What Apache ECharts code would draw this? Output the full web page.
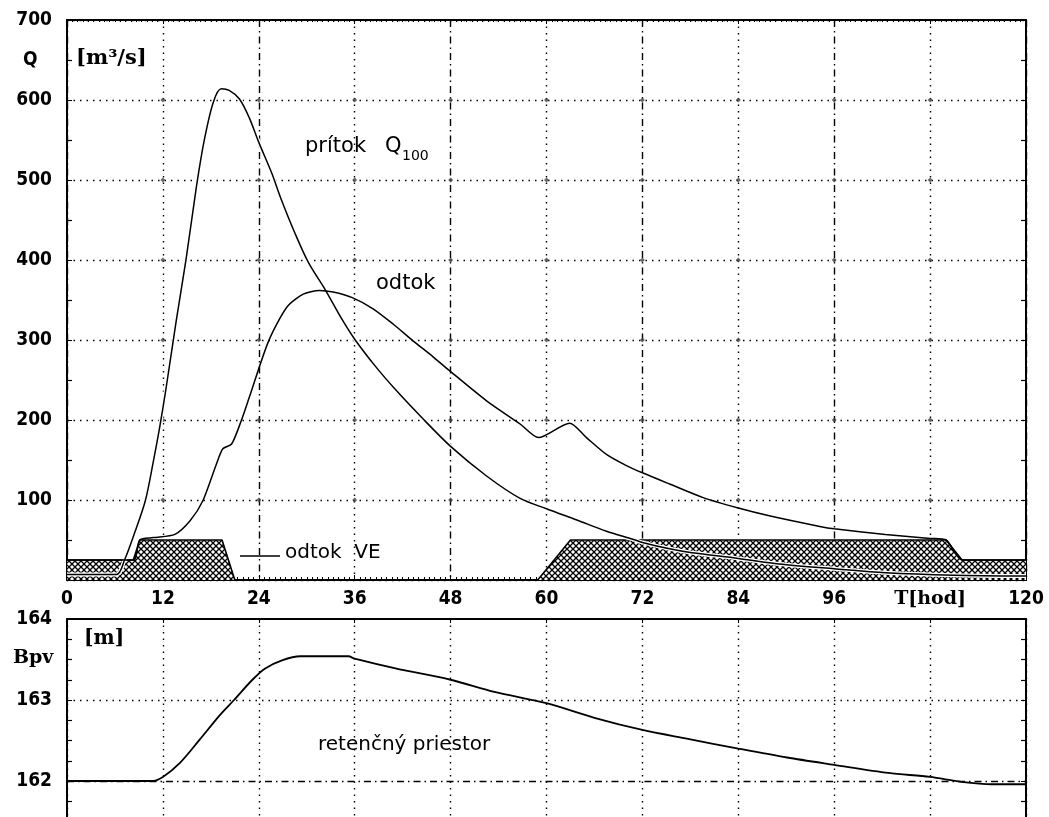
<!DOCTYPE html>
<html>
<head>
<meta charset="utf-8">
<script src="https://cdn.jsdelivr.net/npm/echarts@6/dist/echarts.min.js"></script>
<style>
html, body { margin: 0; padding: 0; background: #fff; }
#chart { width: 1049px; height: 817px; }
</style>
</head>
<body>
<div id="chart"></div>
<script>
// Time axis (hours) and axis ranges
const timeTicks = [0, 12, 24, 36, 48, 60, 72, 84, 96, 108, 120];
const timeAxisName = 'T[hod]';
const qTicks = [0, 100, 200, 300, 400, 500, 600, 700];
const levelRange = [161, 164];

// Inflow hydrograph Q100 [m3/s]: [hour, discharge]
const inflow = [
  [0, 7], [6.2, 7], [7.2, 25], [8.5, 60], [9.8, 99], [10.8, 148], [11.6, 191],
  [12.4, 240], [13.7, 326], [14.9, 401], [16.2, 492], [17.2, 551], [18.3, 597],
  [19.3, 614], [20.3, 612], [21.6, 601], [22.8, 578], [24, 547], [25.6, 509],
  [26.8, 476], [28.5, 434], [30.2, 397], [32.3, 363], [34.4, 326], [36, 301],
  [38.6, 267], [41.1, 238], [44.3, 204], [48, 167], [52.5, 130], [56.7, 102],
  [60, 89], [63.8, 75], [67.5, 61], [70.8, 51], [72, 47], [75.4, 39], [78.2, 34],
  [84, 27], [89.1, 20], [96, 14], [102.4, 9], [111, 6], [120, 5]
];

// Reservoir outflow [m3/s]
const outflow = [
  [0, 25], [8.3, 25], [9.1, 50], [10.8, 53], [13.5, 57], [15.4, 74], [17, 99],
  [18.7, 145], [19.5, 164], [20.6, 170], [21.8, 199], [22.8, 228], [25.2, 298],
  [27.5, 341], [29.5, 357], [31.6, 362], [33.3, 360], [35.7, 353], [38.3, 339],
  [40.8, 320], [43.3, 299], [45.8, 279], [47.7, 263], [52.5, 224], [56.7, 195],
  [59, 178], [62.9, 196], [65, 178], [67.5, 157], [70, 143], [72, 134],
  [75.4, 120], [79.6, 103], [84, 90], [88, 80], [94.2, 67], [96, 64],
  [102.4, 57], [108, 52], [110, 50], [112, 25], [120, 25]
];

// Outflow through the hydropower plant (VE) [m3/s]
const outflowVE = [
  [0, 25], [8.3, 25], [9.1, 50], [19.4, 50], [21, 0], [58.9, 0], [63, 50],
  [110, 50], [112, 25], [120, 25]
];

// Water level in the reservoir Bpv [m]
const waterLevel = [
  [0, 162], [10.6, 162], [12, 162.05], [14.1, 162.22], [16.6, 162.51],
  [19.1, 162.81], [20.9, 163.0], [23.2, 163.25], [24.8, 163.39],
  [26.9, 163.49], [29.2, 163.54], [35.2, 163.54], [36, 163.51], [41.1, 163.39],
  [48, 163.25], [53.5, 163.1], [60, 162.96], [66, 162.78], [72, 162.63],
  [77.7, 162.52], [84, 162.4], [90.1, 162.29], [96, 162.2], [102.8, 162.1],
  [108, 162.05], [111.9, 161.99], [115.7, 161.96], [120, 161.96]
];

// Cross-hatch fill for the VE outflow band
function crossHatch() {
  const s = 6;
  const c = document.createElement('canvas');
  c.width = s; c.height = s;
  const g = c.getContext('2d');
  g.fillStyle = '#fff';
  g.fillRect(0, 0, s, s);
  g.strokeStyle = '#000';
  g.lineWidth = 1.3;
  g.beginPath();
  g.moveTo(0, 0); g.lineTo(s, s);
  g.moveTo(s, 0); g.lineTo(0, s);
  g.stroke();
  return c;
}

// Small marks where the grid lines of the discharge panel cross
const gridCrossings = [];
timeTicks.slice(1, -1).forEach(t => {
  qTicks.slice(1, -1).forEach(q => gridCrossings.push([t, q]));
});

const INK = '#000';
const NONE = 'rgba(0,0,0,0)';
const DOT = [1.5, 5];
const DASHDOT = [7, 4, 1.5, 4];
const numFont = { fontFamily: '"DejaVu Sans Condensed", "DejaVu Sans"', fontWeight: 'bold', fontSize: 19, color: INK };

const tMin = timeTicks[0];
const tMax = timeTicks[timeTicks.length - 1];
const tStep = timeTicks[1] - timeTicks[0];
const qMin = qTicks[0];
const qMax = qTicks[qTicks.length - 1];
const qStep = qTicks[1] - qTicks[0];

const chart = echarts.init(document.getElementById('chart'), null, { renderer: 'canvas' });

chart.setOption({
  animation: false,
  backgroundColor: '#fff',
  grid: [
    { left: 67, right: 23, top: 20, height: 560, outerBoundsMode: 'none', containLabel: false },
    // the level panel runs on below the lower edge of the page
    { left: 67, right: 23, top: 619, height: 243, outerBoundsMode: 'none', containLabel: false }
  ],
  xAxis: [
    {
      gridIndex: 0, type: 'value', position: 'bottom',
      min: tMin, max: tMax, interval: tStep,
      axisLine: { show: true, onZero: false, lineStyle: { color: INK, width: 2 } },
      axisTick: { show: true, inside: true, length: 5, lineStyle: { color: INK } },
      minorTick: { show: true, splitNumber: 18, length: 3, lineStyle: { color: INK } },
      axisLabel: {
        show: true, margin: 10, ...numFont,
        formatter: v => (v === timeTicks[timeTicks.length - 2] ? '{t|' + timeAxisName + '}' : String(v)),
        rich: { t: { fontFamily: 'DejaVu Serif', fontWeight: 'bold', fontSize: 19, color: INK } }
      },
      splitLine: { show: true, lineStyle: { type: DOT, width: 1.4, color: [NONE, INK] } }
    },
    {
      gridIndex: 0, type: 'value', position: 'top',
      min: tMin, max: tMax, interval: tStep,
      axisLine: { show: true, onZero: false, lineStyle: { color: INK, width: 2 } },
      axisTick: { show: true, inside: true, length: 4, lineStyle: { color: INK } },
      minorTick: { show: true, splitNumber: 18, length: 2, lineStyle: { color: INK } },
      axisLabel: { show: false },
      splitLine: { show: true, lineStyle: { type: DASHDOT, width: 1.4, color: [INK, NONE] } }
    },
    {
      gridIndex: 1, type: 'value', position: 'bottom',
      min: tMin, max: tMax, interval: tStep,
      axisLine: { show: true, onZero: false, lineStyle: { color: INK, width: 2 } },
      axisTick: { show: false },
      axisLabel: { show: false },
      splitLine: { show: true, lineStyle: { type: DOT, width: 1.4, color: INK } }
    },
    {
      gridIndex: 1, type: 'value', position: 'top',
      min: tMin, max: tMax, interval: tStep,
      axisLine: { show: true, onZero: false, lineStyle: { color: INK, width: 2 } },
      axisTick: { show: true, inside: true, length: 4, lineStyle: { color: INK } },
      axisLabel: { show: false },
      splitLine: { show: false }
    }
  ],
  yAxis: [
    {
      gridIndex: 0, type: 'value', position: 'left',
      min: qMin, max: qMax, interval: qStep,
      axisLine: { show: true, onZero: false, lineStyle: { color: INK, width: 2 } },
      axisTick: { show: true, inside: true, length: 5, lineStyle: { color: INK } },
      minorTick: { show: true, splitNumber: 2, length: 5, lineStyle: { color: INK, width: 1.2 } },
      axisLabel: { show: true, margin: 15, ...numFont, formatter: v => (v === qMin ? '' : String(v)) },
      splitLine: { show: true, lineStyle: { type: DOT, width: 1.4, color: INK } }
    },
    {
      gridIndex: 0, type: 'value', position: 'right',
      min: qMin, max: qMax, interval: qStep,
      axisLine: { show: true, onZero: false, lineStyle: { color: INK, width: 2 } },
      axisTick: { show: true, inside: true, length: 5, lineStyle: { color: INK } },
      minorTick: { show: true, splitNumber: 2, length: 5, lineStyle: { color: INK, width: 1.2 } },
      axisLabel: { show: false },
      splitLine: { show: false }
    },
    {
      gridIndex: 1, type: 'value', position: 'left',
      min: levelRange[0], max: levelRange[1], interval: 1,
      axisLine: { show: true, onZero: false, lineStyle: { color: INK, width: 2 } },
      axisTick: { show: true, inside: true, length: 5, lineStyle: { color: INK } },
      minorTick: { show: true, splitNumber: 4, length: 5, lineStyle: { color: INK, width: 1.2 } },
      axisLabel: { show: true, margin: 15, ...numFont, formatter: v => (v === levelRange[0] ? '' : String(v)) },
      splitLine: { show: true, lineStyle: { type: DOT, width: 1.4, color: [NONE, NONE, INK, NONE] } }
    },
    {
      gridIndex: 1, type: 'value', position: 'right',
      min: levelRange[0], max: levelRange[1], interval: 1,
      axisLine: { show: true, onZero: false, lineStyle: { color: INK, width: 2 } },
      axisTick: { show: true, inside: true, length: 5, lineStyle: { color: INK } },
      minorTick: { show: true, splitNumber: 4, length: 5, lineStyle: { color: INK, width: 1.2 } },
      axisLabel: { show: false },
      splitLine: { show: true, lineStyle: { type: DASHDOT, width: 1.4, color: [NONE, INK, NONE, NONE] } }
    }
  ],
  series: [
    {
      name: 'grid crossings', type: 'scatter', xAxisIndex: 0, yAxisIndex: 0,
      data: gridCrossings, symbol: 'diamond', symbolSize: 5, z: 1,
      itemStyle: { color: '#444' }, silent: true
    },
    {
      name: 'odtok VE', type: 'line', xAxisIndex: 0, yAxisIndex: 0,
      data: outflowVE, symbol: 'none', z: 2,
      lineStyle: { color: INK, width: 1.6 },
      areaStyle: { color: { image: crossHatch(), repeat: 'repeat' }, opacity: 1 }
    },
    {
      name: 'prítok halo', type: 'line', xAxisIndex: 0, yAxisIndex: 0,
      data: inflow, symbol: 'none', smooth: 0.3, z: 3,
      lineStyle: { color: '#fff', width: 4 }
    },
    {
      name: 'prítok Q100', type: 'line', xAxisIndex: 0, yAxisIndex: 0,
      data: inflow, symbol: 'none', smooth: 0.3, z: 4,
      lineStyle: { color: INK, width: 1.5 }
    },
    {
      name: 'odtok', type: 'line', xAxisIndex: 0, yAxisIndex: 0,
      data: outflow, symbol: 'none', smooth: 0.25, z: 4,
      lineStyle: { color: INK, width: 1.5 }
    },
    {
      name: 'Bpv', type: 'line', xAxisIndex: 2, yAxisIndex: 2,
      data: waterLevel, symbol: 'none', smooth: 0.3, z: 4,
      lineStyle: { color: INK, width: 1.8 }
    }
  ],
  graphic: [
    // axis captions
    { type: 'text', left: 23, top: 51, style: { text: 'Q', font: 'bold 19px "DejaVu Sans Condensed", "DejaVu Sans"', fill: INK } },
    { type: 'text', left: 76, top: 48, style: { text: '[m³/s]', font: 'bold 21px "DejaVu Serif"', fill: INK } },
    { type: 'text', left: 13, top: 649, style: { text: 'Bpv', font: 'bold 19px "DejaVu Serif"', fill: INK } },
    { type: 'text', left: 84, top: 629, style: { text: '[m]', font: 'bold 20px "DejaVu Serif"', fill: INK } },
    // curve captions
    { type: 'text', left: 305, top: 136, style: { text: 'prítok', font: '21px "DejaVu Sans"', fill: INK } },
    { type: 'text', left: 385, top: 136, style: { text: 'Q', font: '21px "DejaVu Sans"', fill: INK } },
    { type: 'text', left: 402, top: 149, style: { text: '100', font: '14px "DejaVu Sans"', fill: INK } },
    { type: 'text', left: 376, top: 273, style: { text: 'odtok', font: '21px "DejaVu Sans"', fill: INK } },
    { type: 'line', shape: { x1: 240, y1: 556, x2: 280, y2: 556 }, style: { stroke: INK, lineWidth: 1.5 } },
    { type: 'text', left: 285, top: 543, style: { text: 'odtok  VE', font: '20px "DejaVu Sans"', fill: INK } },
    { type: 'text', left: 318, top: 735, style: { text: 'retenčný priestor', font: '20px "DejaVu Sans"', fill: INK } }
  ]
});
</script>
</body>
</html>
